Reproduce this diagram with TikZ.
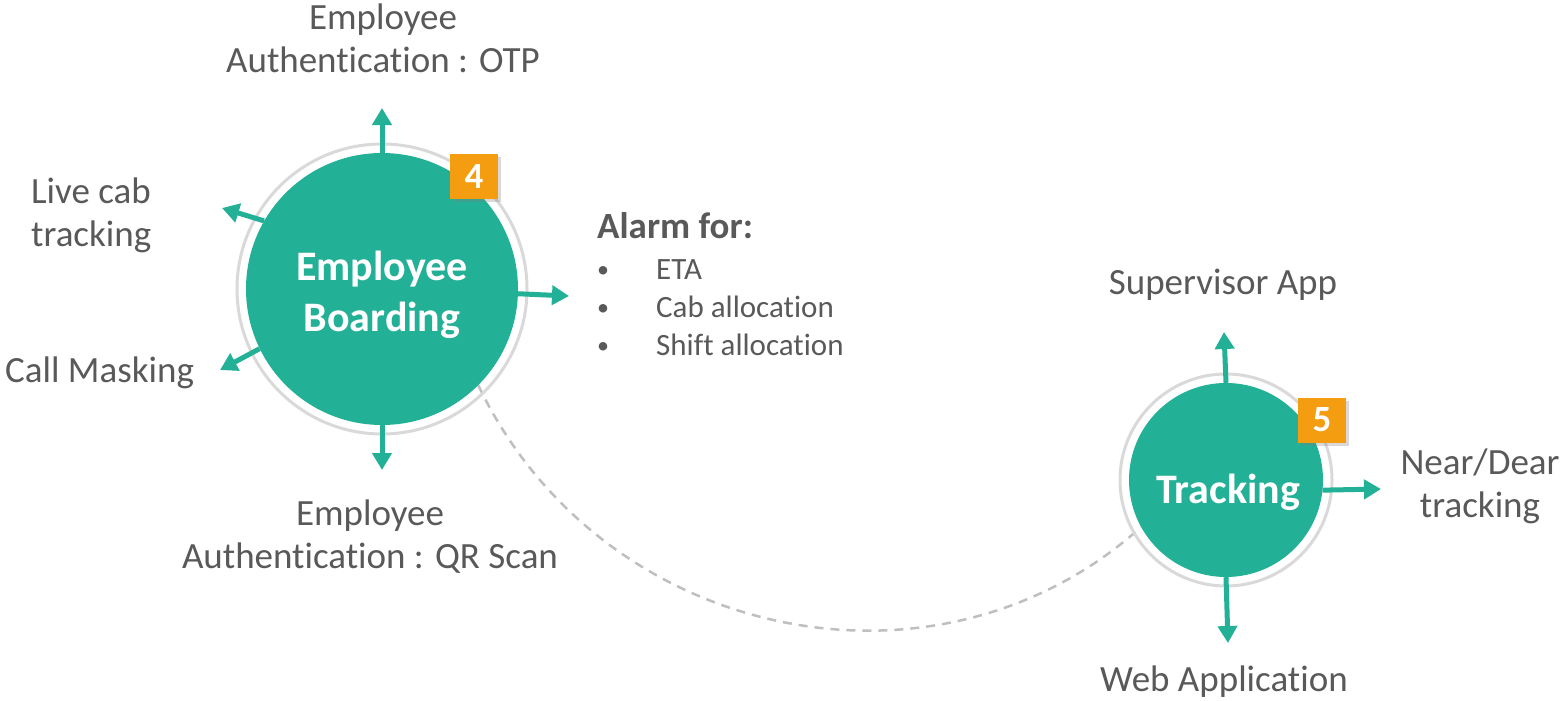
\documentclass[tikz,border=0pt]{standalone}
\usepackage{fontspec}
\setmainfont{Carlito}[Ligatures=NoCommon]
\usetikzlibrary{arrows.meta,shadows,backgrounds}
\definecolor{teal1}{HTML}{22B096}
\definecolor{orng}{HTML}{F59D10}
\definecolor{txtgray}{HTML}{595959}
\definecolor{ringgray}{HTML}{D9D9D9}
\definecolor{dashgray}{HTML}{BFBFBF}
\newcommand{\bul}{\makebox[59pt][l]{\raisebox{2pt}{\fontsize{24}{24}\selectfont•}}}
\begin{document}
\begin{tikzpicture}[x=1pt,y=-1pt,
 hub/.style={circle,fill=teal1,inner sep=0},
 hubtext/.style={text=white,align=center,inner sep=0,font=\fontsize{42}{51}\selectfont\bfseries},
 ring/.style={draw=ringgray,line width=3pt},
 badge/.style={fill=orng,minimum width=48pt,minimum height=45pt,inner sep=0,text=white,font=\fontsize{37}{37}\selectfont\bfseries,drop shadow={opacity=0.3,shadow xshift=3pt,shadow yshift=-3pt}},
 spoke/.style={draw=teal1,line width=5pt,-{Triangle[width=19pt,length=17pt]}},
 lbl/.style={text=txtgray,align=center,inner sep=0,font=\fontsize{37}{43}\selectfont},
 link/.style={draw=dashgray,line width=2.5pt,dash pattern=on 9pt off 7pt}]
\useasboundingbox (0,0) rectangle (1561,701);
% hubs
\node[hub,minimum size=272pt] (c1) at (382,289) {};
\node[hub,minimum size=194pt] (c2) at (1226,480) {};
\node[hubtext] (c1t) at (382,295) {Employee\\Boarding};
\node[hubtext] (c2t) at (1228,492) {Tracking};
\begin{scope}[on background layer]
\draw[link] (c1.-45) .. controls (600,640) and (935,712) .. (c2.209);
\draw[ring] (c1.center) circle (145pt);
\draw[ring] (c2.center) circle (106pt);
\end{scope}
% badges
\node[badge] (b4) at (474,176) {4};
\node[badge] (b5) at (1322,420) {5};
% labels
\node[lbl] (otp) at (383,38) {Employee\\Authentication : OTP};
\node[lbl,align=left,anchor=west] (live) at (31,215) {Live cab\\tracking};
\node[lbl,anchor=west] (callm) at (5,373) {Call Masking};
\node[lbl] (qr) at (370,537) {Employee\\Authentication : QR Scan};
\node[text=txtgray,align=left,inner sep=0,anchor=north west,font=\fontsize{31}{38}\selectfont] (alarm) at (597,212)
 {{\fontsize{37}{41}\selectfont\bfseries Alarm for:}\\[3pt]
  \bul ETA\\
  \bul Cab allocation\\
  \bul Shift allocation};
\node[lbl] (sup) at (1223,285) {Supervisor App};
\node[lbl] (near) at (1480,486) {Near/Dear\\tracking};
\node[lbl] (web) at (1224,682) {Web Application};
% arrow tips
\coordinate (t1u) at (382,108);
\coordinate (t1r) at (569,296);
\coordinate (t1d) at (382,470);
\coordinate (t1ul) at (222,208);
\coordinate (t1ll) at (220,370);
\coordinate (t2u) at (1224,332);
\coordinate (t2r) at (1381,489);
\coordinate (t2d) at (1228,643);
% spokes
\draw[spoke] (c1.90) -- (t1u);
\draw[spoke] (c1.-2) -- (t1r);
\draw[spoke] (c1.270) -- (t1d);
\draw[spoke] (c1.150) -- (t1ul);
\draw[spoke] (c1.206) -- (t1ll);
\draw[spoke] (c2.90) -- (t2u);
\draw[spoke] (c2.-6) -- (t2r);
\draw[spoke] (c2.270) -- (t2d);
\end{tikzpicture}
\end{document}
